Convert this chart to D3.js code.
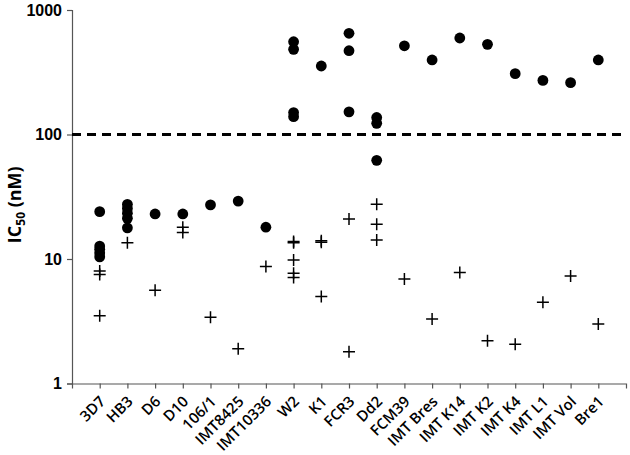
<!DOCTYPE html>
<html>
<head>
<meta charset="utf-8">
<script src="https://cdn.jsdelivr.net/npm/d3@7"></script>
<style>
  body { margin: 0; background: #fff; }
  svg { display: block; }
  .axis path, .axis line { stroke: #555; stroke-width: 1.2; }
  .y-axis text { font-family: "Liberation Sans", Arial, sans-serif; font-weight: bold; font-size: 16px; fill: #000; }
  .x-axis text { font-family: "Open Sans", sans-serif; font-weight: 600; font-size: 15px; fill: #000; }
</style>
</head>
<body>
<svg id="chart" width="630" height="455"></svg>
<script>
const strains = ['3D7', 'HB3', 'D6', 'D10', '106/1', 'IMT8425', 'IMT10336', 'W2', 'K1', 'FCR3',
  'Dd2', 'FCM39', 'IMT Bres', 'IMT K14', 'IMT K2', 'IMT K4', 'IMT L1', 'IMT Vol', 'Bre1'];

// filled circles (one list per strain)
const circleValues = [
  [24, 12.7, 12.0, 11.2, 10.4],
  [27.5, 25.5, 23.3, 21.2, 17.8],
  [23],
  [23],
  [27.2],
  [29.2],
  [18],
  [556, 483, 150, 139],
  [355],
  [650, 471, 152],
  [137, 123, 62],
  [516],
  [397],
  [596],
  [530],
  [308],
  [272],
  [261],
  [397]
];

// crosses (one list per strain)
const crossValues = [
  [8.0, 7.5, 3.5],
  [13.5],
  [5.6],
  [18.0, 16.3],
  [3.4],
  [1.9],
  [8.7],
  [13.5, 13.8, 9.8, 7.7, 7.1],
  [14.0, 13.6, 5.0],
  [21, 1.8],
  [27.5, 19, 14.2],
  [6.9],
  [3.3],
  [7.8],
  [2.2],
  [2.07],
  [4.5],
  [7.3],
  [3.0]
];

const yTicks = [1, 10, 100, 1000];
const cutoff = 100;

const plot = { left: 72, right: 626, top: 10, bottom: 383.5 };

const svg = d3.select('#chart');

const x = d3.scalePoint()
  .domain(strains)
  .range([plot.left, plot.right])
  .padding(1);

const y = d3.scaleLog()
  .domain([1, 1000])
  .range([plot.bottom, plot.top]);

const yAxis = d3.axisLeft(y).tickValues(yTicks).tickFormat(d3.format('d')).tickSize(5).tickPadding(5);
const xAxis = d3.axisBottom(x).tickSize(5).tickSizeOuter(5);

svg.append('g')
  .attr('class', 'axis y-axis')
  .attr('transform', `translate(${plot.left},0)`)
  .call(yAxis);

svg.append('g')
  .attr('class', 'axis x-axis')
  .attr('transform', `translate(0,${plot.bottom})`)
  .call(xAxis);

svg.selectAll('.x-axis .tick text')
  .attr('text-anchor', 'end')
  .attr('dy', null)
  .attr('y', 0)
  .attr('transform', 'translate(6,19) rotate(-45)');

// y label
svg.append('text')
  .attr('transform', `translate(21,${(plot.top + plot.bottom) / 2 + 8}) rotate(-90)`)
  .attr('text-anchor', 'middle')
  .style('font-family', '"Open Sans", sans-serif')
  .style('font-weight', 'bold')
  .style('font-size', '18px')
  .call(t => {
    t.append('tspan').text('IC');
    t.append('tspan').attr('dy', 4).style('font-size', '12px').text('50');
    t.append('tspan').attr('dy', -4).text(' (nM)');
  });

// cutoff line
svg.append('line')
  .attr('x1', plot.left)
  .attr('x2', plot.right)
  .attr('y1', y(cutoff))
  .attr('y2', y(cutoff))
  .attr('stroke', '#000')
  .attr('stroke-width', 3)
  .attr('stroke-dasharray', '9,6');

const circles = strains.flatMap((s, i) => circleValues[i].map(v => ({ s, v })));
const crosses = strains.flatMap((s, i) => crossValues[i].map(v => ({ s, v })));

svg.append('g').selectAll('circle')
  .data(circles)
  .join('circle')
  .attr('cx', d => x(d.s))
  .attr('cy', d => y(d.v))
  .attr('r', 5.4)
  .attr('fill', '#000');

svg.append('g').selectAll('path')
  .data(crosses)
  .join('path')
  .attr('d', d => {
    const cx = x(d.s), cy = y(d.v), h = 6;
    return `M${cx - h},${cy}H${cx + h}M${cx},${cy - h}V${cy + h}`;
  })
  .attr('stroke', '#000')
  .attr('stroke-width', 1.5);
</script>
</body>
</html>
